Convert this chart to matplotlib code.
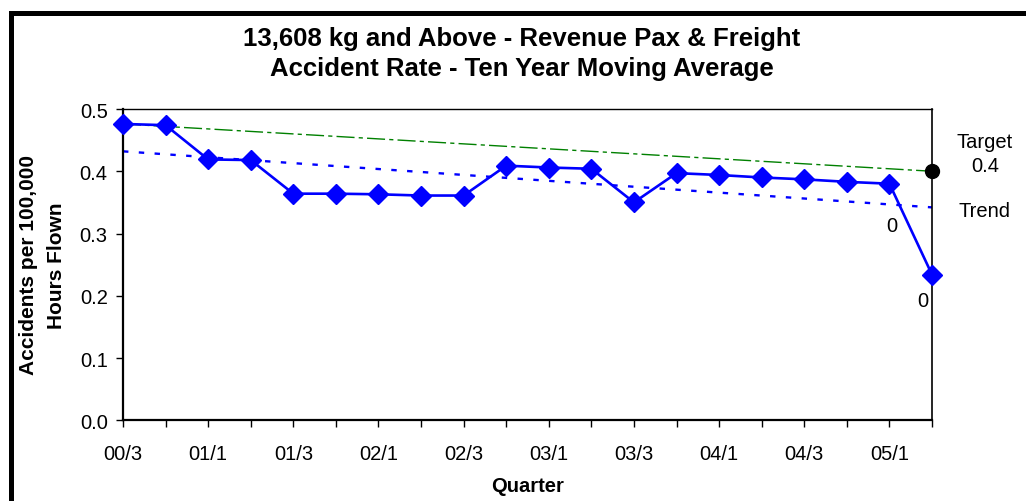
import matplotlib
matplotlib.use("Agg")
import matplotlib.pyplot as plt
from matplotlib.patches import Rectangle

# ---- data ----
quarters = ["00/3", "00/4", "01/1", "01/2", "01/3", "01/4", "02/1", "02/2", "02/3", "02/4",
            "03/1", "03/2", "03/3", "03/4", "04/1", "04/2", "04/3", "04/4", "05/1", "05/2"]
rate = [0.476, 0.474, 0.419, 0.418, 0.364, 0.364, 0.363, 0.361, 0.361, 0.409,
        0.406, 0.404, 0.350, 0.397, 0.394, 0.390, 0.387, 0.383, 0.380, 0.234]
target_line = [0.476, 0.400]   # start / end of target line
trend_line = [0.432, 0.342]    # start / end of trend line
target_value = 0.4
point_labels = ["0", "0"]      # labels on the last two points
tick_labels = [q if i % 2 == 0 else "" for i, q in enumerate(quarters)]

W, H = 1026, 502
plt.rcParams['font.family'] = ['Liberation Sans', 'DejaVu Sans']
fig = plt.figure(figsize=(W / 100, H / 100), dpi=100)
ax = fig.add_axes([123 / W, 1 - 421.3 / H, (932 - 123) / W, (421.3 - 110) / H])

x = list(range(len(quarters)))
n = len(quarters) - 1

ax.plot([0, n], target_line, color="#008000", lw=1.0,
        dashes=(13, 3, 3, 3), zorder=2)
ax.plot([0, n], trend_line, color="#0000FF", lw=1.7,
        dashes=(2.3, 4.4), zorder=2)
ax.plot(x, rate, color="#0000FF", lw=1.9, marker="D", ms=10,
        mfc="#0000FF", mec="#0000FF", zorder=4, clip_on=False)
ax.plot([n], [target_value], marker="o", ms=10, color="black",
        zorder=5, clip_on=False)

ax.set_xlim(0, n)
ax.set_ylim(0, 0.5)
ax.set_xticks(x)
ax.set_xticklabels(tick_labels)
ax.set_yticks([0, 0.1, 0.2, 0.3, 0.4, 0.5])
ax.set_yticklabels(["0.0", "0.1", "0.2", "0.3", "0.4", "0.5"])
ax.tick_params(axis="both", direction="out", length=5, width=1.0,
               labelsize=14.5, colors="black")
ax.tick_params(axis="x", pad=12)
ax.tick_params(axis="y", pad=6)

for side, lw in (("left", 1.6), ("bottom", 1.6), ("right", 1.2), ("top", 1.0)):
    ax.spines[side].set_linewidth(lw)
    ax.spines[side].set_color("black")

# point labels
ax.annotate(point_labels[0], xy=(n - 1, rate[n - 1]), xytext=(2, -42),
            textcoords="offset pixels", ha="center", va="center", fontsize=14.5)
ax.annotate(point_labels[1], xy=(n, rate[n]), xytext=(-9, -26),
            textcoords="offset pixels", ha="center", va="center", fontsize=14.5)

# side labels
ax.annotate("Target\n0.4", xy=(n, target_value), xytext=(53, 18),
            textcoords="offset pixels", ha="center", va="center",
            fontsize=14.5, linespacing=1.3, annotation_clip=False)
ax.annotate("Trend", xy=(n, trend_line[1]), xytext=(53, -3),
            textcoords="offset pixels", ha="center", va="center",
            fontsize=14.5, annotation_clip=False)

# titles
fig.text(522 / W, 1 - 54 / H,
         "13,608 kg and Above - Revenue Pax & Freight\nAccident Rate - Ten Year Moving Average",
         ha="center", va="center", fontsize=18.5, fontweight="bold", linespacing=1.3)
fig.text(528 / W, 1 - 487 / H, "Quarter", ha="center", va="center",
         fontsize=14.5, fontweight="bold")
fig.text(42.5 / W, 1 - 265.5 / H, "Accidents per 100,000\nHours Flown", ha="center",
         va="center", rotation=90, fontsize=15, fontweight="bold", linespacing=1.55)

# outer chart border (extends past right and bottom edges)
fig.patches.append(Rectangle((10.5 / W, -0.2), 1.2, 1 + 0.2 - 14 / H,
                             transform=fig.transFigure, fill=False,
                             edgecolor="black", lw=3.6))

fig.savefig("out.png", dpi=100)
